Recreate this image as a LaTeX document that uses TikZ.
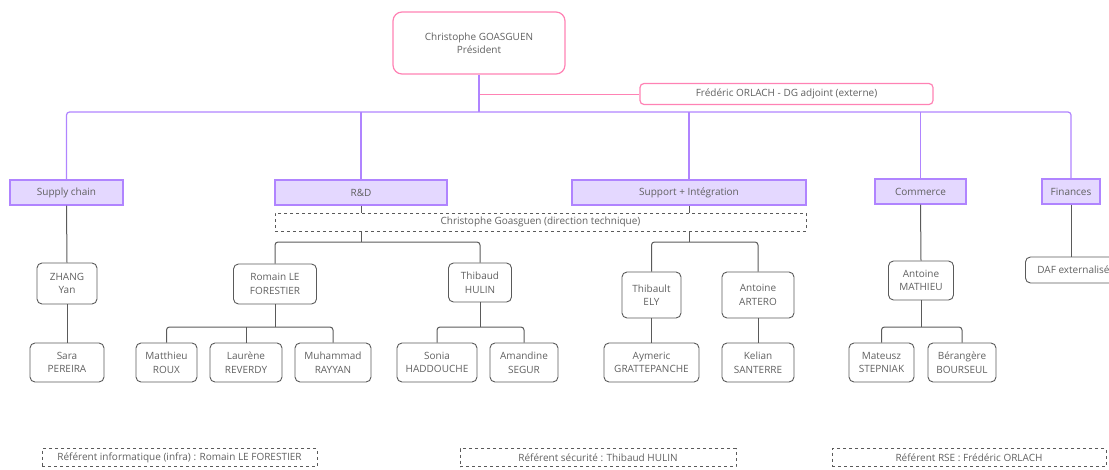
\documentclass[tikz,border=0pt]{standalone}
\usepackage{fontspec}
\setmainfont{Open Sans}
\usetikzlibrary{positioning}

\definecolor{pinkline}{HTML}{FF82B4}
\definecolor{purpline}{HTML}{B084FF}
\definecolor{purpfill}{HTML}{E4D8FF}
\definecolor{greyline}{HTML}{5A5A5A}
\definecolor{greytext}{HTML}{606060}

\begin{document}
\begin{tikzpicture}[x=1pt,y=-1pt,
    every node/.style={font=\fontsize{10}{13.5}\selectfont, text=greytext, align=center, inner sep=0pt},
    chief/.style={draw=pinkline, line width=1.2pt, rounded corners=9pt},
    dept/.style={draw=purpline, fill=purpfill, line width=1.2pt, minimum height=25pt},
    person/.style={draw=greyline, line width=0.9pt, rounded corners=5pt, minimum height=39pt},
    refbox/.style={draw=greyline, line width=0.8pt, dashed, minimum height=18pt},
    purp/.style={draw=purpline, line width=1.2pt},
    grey/.style={draw=greyline, line width=1pt}]
      \useasboundingbox (0,0) rectangle (1109,469);

      % Direction
      \node[chief, minimum width=172pt, minimum height=62pt] (pres) at (479,43) {Christophe GOASGUEN\\Président};
      \node[chief, rounded corners=4pt, minimum width=293pt, minimum height=21pt] (adjoint) at (786.5,94) {Frédéric ORLACH - DG adjoint (externe)};

      % Departements
      \node[dept, minimum width=113pt] (supply) at (66.5,192.5) {Supply chain};
      \node[dept, minimum width=172pt] (rd) at (361,192.5) {R\&D};
      \node[dept, minimum width=234pt] (support) at (689,192.5) {Support + Intégration};
      \node[dept, minimum width=91pt] (commerce) at (920.5,191.5) {Commerce};
      \node[dept, minimum width=58pt] (finances) at (1071,191.5) {Finances};
      \node[refbox, minimum width=531pt] (dirtech) at (540.5,222) {Christophe Goasguen (direction technique)};

      % Personnes
      \node[person, minimum width=60pt, minimum height=41pt] (zhang) at (67,283.5) {ZHANG\\Yan};
      \node[person, minimum width=74pt] (pereira) at (67,362.5) {Sara\\PEREIRA};
      \node[person, minimum width=83pt, minimum height=40pt] (romain) at (275,284) {Romain LE\\FORESTIER};
      \node[person, minimum width=63pt] (thibaud) at (480,282.5) {Thibaud\\HULIN};
      \node[person, minimum width=61pt] (matthieu) at (166.5,362.5) {Matthieu\\ROUX};
      \node[person, minimum width=72pt] (laurene) at (246,362.5) {Laurène\\REVERDY};
      \node[person, minimum width=76pt] (muhammad) at (333,362.5) {Muhammad\\RAYYAN};
      \node[person, minimum width=80pt] (sonia) at (437,362.5) {Sonia\\HADDOUCHE};
      \node[person, minimum width=68pt] (amandine) at (524,362.5) {Amandine\\SEGUR};
      \node[person, minimum width=59pt, minimum height=46pt] (ely) at (651.5,295) {Thibault\\ELY};
      \node[person, minimum width=72pt, minimum height=46pt] (artero) at (758,295) {Antoine\\ARTERO};
      \node[person, minimum width=95pt] (aymeric) at (651.5,362.5) {Aymeric\\GRATTEPANCHE};
      \node[person, minimum width=72pt] (kelian) at (758,362.5) {Kelian\\SANTERRE};
      \node[person, minimum width=65pt] (mathieu) at (921,280.5) {Antoine\\MATHIEU};
      \node[person, minimum width=65pt] (mateusz) at (881.5,362.5) {Mateusz\\STEPNIAK};
      \node[person, minimum width=68pt] (berangere) at (962,362.5) {Bérangère\\BOURSEUL};
      \node[person, minimum width=96pt, minimum height=26pt, anchor=west] (daf) at (1025,270) {DAF externalisé};

      % Referents
      \node[refbox, minimum width=275pt] (refinfo) at (179.5,457.5) {Référent informatique (infra) : Romain LE FORESTIER};
      \node[refbox, minimum width=276pt] (refsec) at (598,457.5) {Référent sécurité : Thibaud HULIN};
      \node[refbox, minimum width=274pt] (refrse) at (969,457.5) {Référent RSE : Frédéric ORLACH};

      % Liaisons direction
      \coordinate (bus) at (0,112);
      \draw[draw=pinkline, line width=1pt] (pres.south |- adjoint.west) -- (adjoint.west);
      \draw[purp] (pres.south) -- (pres.south |- bus);
      \draw[purp, rounded corners=3pt] (supply.north) |- (pres.south |- bus) -| (finances.north);
      \draw[purp] (rd.north) -- (rd.north |- bus);
      \draw[purp] (support.north) -- (support.north |- bus);
      \draw[purp] (commerce.north) -- (commerce.north |- bus);

      % Liaisons equipes
      \coordinate (fork) at (0,242);
      \coordinate (sub) at (0,327);
      \draw[grey] (supply.south) -- (zhang.north);
      \draw[grey] (zhang.south) -- (pereira.north);
      \draw[grey] (rd.south) -- (rd.south |- dirtech.north);
      \draw[grey] (support.south) -- (support.south |- dirtech.north);
      \draw[grey] (rd.south |- dirtech.south) -- (rd.south |- fork);
      \draw[grey, rounded corners=3pt] (romain.north) |- (rd.south |- fork) -| (thibaud.north);
      \draw[grey] (support.south |- dirtech.south) -- (support.south |- fork);
      \draw[grey, rounded corners=3pt] (ely.north) |- (support.south |- fork) -| (artero.north);
      \draw[grey] (romain.south) -- (romain.south |- sub);
      \draw[grey, rounded corners=3pt] (matthieu.north) |- (romain.south |- sub) -| (muhammad.north);
      \draw[grey] (laurene.north) -- (laurene.north |- sub);
      \draw[grey] (thibaud.south) -- (thibaud.south |- sub);
      \draw[grey, rounded corners=3pt] (sonia.north) |- (thibaud.south |- sub) -| (amandine.north);
      \draw[grey] (ely.south) -- (aymeric.north);
      \draw[grey] (artero.south) -- (kelian.north);
      \draw[grey] (commerce.south) -- (mathieu.north);
      \draw[grey] (mathieu.south) -- (mathieu.south |- sub);
      \draw[grey, rounded corners=3pt] (mateusz.north) |- (mathieu.south |- sub) -| (berangere.north);
      \draw[grey] (finances.south) -- (finances.south |- daf.north);
\end{tikzpicture}
\end{document}
